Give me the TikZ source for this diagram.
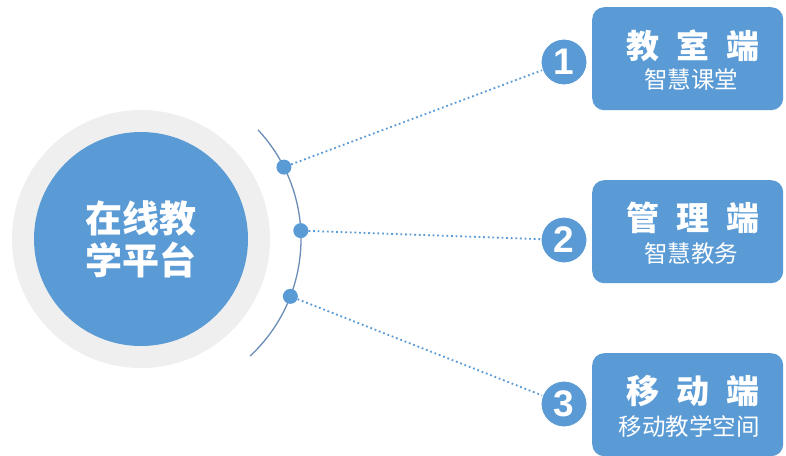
\documentclass[tikz,border=0pt]{standalone}
\usepackage{fontspec}
\usetikzlibrary{calc}
\newfontfamily\cjk{Noto Sans CJK SC}
\newfontfamily\numfont{Liberation Sans}
\definecolor{tblue}{HTML}{5B9BD5}
\definecolor{ringgray}{HTML}{EFEFEF}
\definecolor{arcc}{HTML}{6A8CB6}
\tikzset{
  numc/.style={circle, fill=tblue, draw=white, line width=1pt, minimum size=46pt, inner sep=0pt, text=white, font=\numfont\bfseries\fontsize{37}{37}\selectfont},
  boxc/.style={rounded corners=12pt, fill=tblue, minimum width=191pt, minimum height=103pt, anchor=north west, inner sep=0pt},
  pdot/.style={circle, fill=tblue, minimum size=15pt, inner sep=0pt},
  link/.style={draw=tblue, line width=1.8pt, dash pattern=on 1.8pt off 2.8pt},
  ttl/.style={text=white, inner sep=0pt, font=\cjk\bfseries\fontsize{33}{33}\selectfont},
  sub/.style={text=white, inner sep=0pt, font=\cjk\fontsize{23.5}{24}\selectfont}
}
\begin{document}
\begin{tikzpicture}[x=1pt,y=-1pt]
\useasboundingbox[fill=white] (0,0) rectangle (786,455);
% central circle
\node[circle, fill=ringgray, minimum size=258pt, inner sep=0pt] (ring) at (141,239) {};
\node[circle, fill=tblue, minimum size=214pt, inner sep=0pt, text=white, align=center,
  font=\cjk\bfseries\fontsize{37}{42}\selectfont] (core) at (141,239) {在线教\\学平台};
% arc
\draw[arcc, line width=1.3pt] (141,239) ++(-43:160) arc[start angle=-43, end angle=47, radius=160];
% dots on arc
\node[pdot] (d1) at ($(141,239)+(-26.7:160)$) {};
\node[pdot] (d2) at ($(141,239)+(-3:160)$) {};
\node[pdot] (d3) at ($(141,239)+(21:160)$) {};
% boxes
\node[boxc] (b1) at (592,7) {};
\node[boxc] (b2) at (592,180) {};
\node[boxc] (b3) at (592,353) {};
% number circles
\node[numc] (n1) at (564,62) {1};
\node[numc] (n2) at (564,240) {2};
\node[numc] (n3) at (564,404) {3};
% connectors
\draw[link] (d1) -- (n1);
\draw[link] (d2) -- (n2);
\draw[link] (d3) -- (n3);
% box texts
\node[ttl] (t1) at (693,46) {教\hspace{17pt}室\hspace{17pt}端};
\node[sub] (s1) at (691,80) {智慧课堂};
\node[ttl] (t2) at (693,218) {管\hspace{17pt}理\hspace{17pt}端};
\node[sub] (s2) at (691,254) {智慧教务};
\node[ttl] (t3) at (693,391) {移\hspace{17pt}动\hspace{17pt}端};
\node[sub] (s3) at (689,427) {移动教学空间};
\end{tikzpicture}
\end{document}
